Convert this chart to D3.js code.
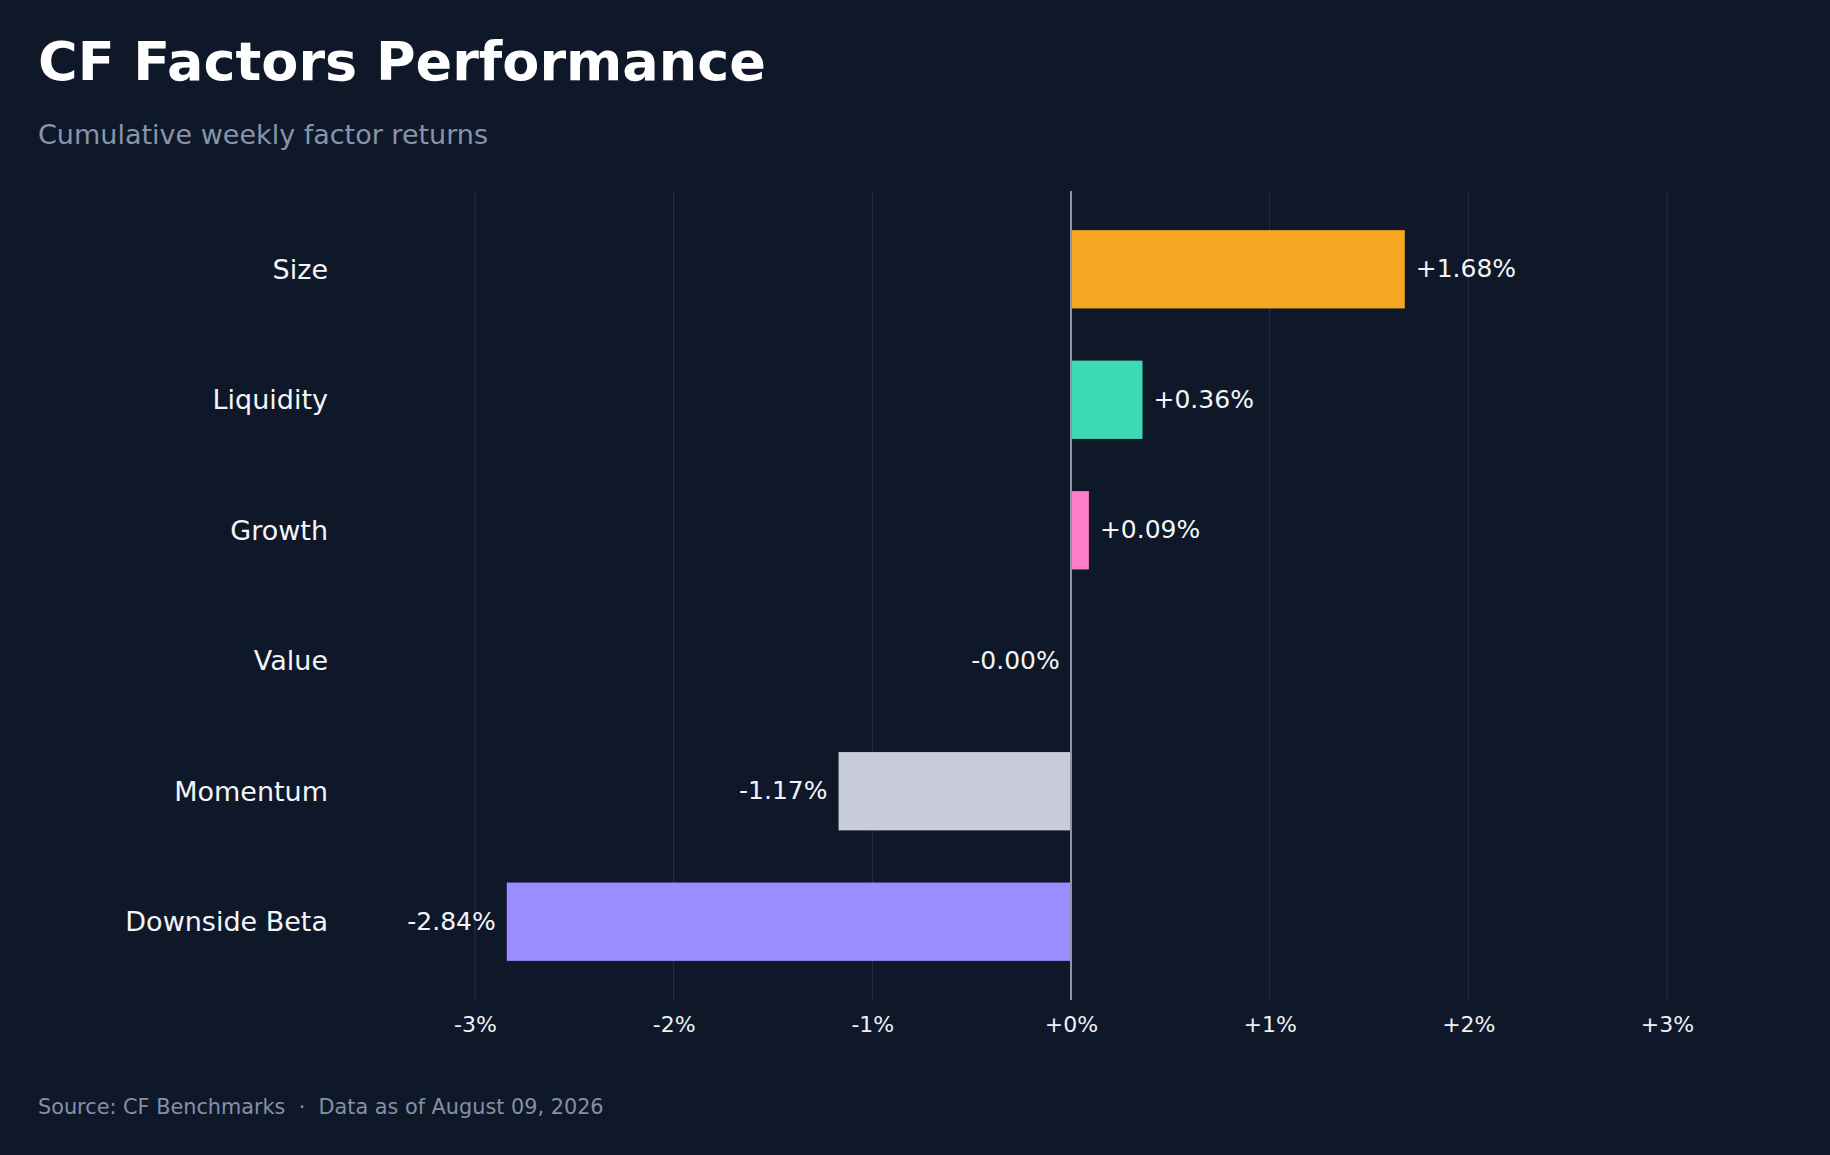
<!DOCTYPE html>
<html>
<head>
<meta charset="utf-8">
<script src="https://cdn.jsdelivr.net/npm/d3@7"></script>
<style>
  body { margin: 0; background: #0f1829; }
  svg { display: block; font-family: 'DejaVu Sans', sans-serif; }
</style>
</head>
<body>
<svg id="chart"></svg>
<script>
const WIDTH = 1830
const HEIGHT = 1155

const factors = ['Size', 'Liquidity', 'Growth', 'Value', 'Momentum', 'Downside Beta']
const returns = [1.68, 0.36, 0.09, -0.001, -1.17, -2.84]
const colors = ['#f5a623', '#3ddab5', '#ff7ec7', '#7b8ca8', '#c8ccd8', '#9b8dff']
const ticks = [-3, -2, -1, 0, 1, 2, 3]

const data = factors.map((name, i) => ({ name, value: returns[i], color: colors[i] }))

const svg = d3.select('#chart')
  .attr('width', WIDTH)
  .attr('height', HEIGHT)

svg.append('rect')
  .attr('width', WIDTH)
  .attr('height', HEIGHT)
  .attr('fill', '#0f1829')

const plotTop = 191
const plotBottom = 1000

const x = d3.scaleLinear()
  .domain([-3, 3])
  .range([475, 1667])

const y = d3.scaleBand()
  .domain(factors)
  .range([plotTop, plotBottom])
  .paddingInner(0.4)
  .paddingOuter(0.3)

const signed = (v, digits) => (v < 0 ? '-' : '+') + Math.abs(v).toFixed(digits) + '%'

// grid
svg.append('g')
  .selectAll('line')
  .data(ticks.filter(d => d !== 0))
  .join('line')
  .attr('x1', d => x(d))
  .attr('x2', d => x(d))
  .attr('y1', plotTop)
  .attr('y2', plotBottom)
  .attr('stroke', '#243047')
  .attr('stroke-width', 1)

// bars
svg.append('g')
  .selectAll('rect')
  .data(data)
  .join('rect')
  .attr('x', d => x(Math.min(0, d.value)))
  .attr('y', d => y(d.name))
  .attr('width', d => Math.abs(x(d.value) - x(0)))
  .attr('height', y.bandwidth())
  .attr('fill', d => d.color)

// zero line
svg.append('line')
  .attr('x1', x(0))
  .attr('x2', x(0))
  .attr('y1', plotTop)
  .attr('y2', plotBottom)
  .attr('stroke', '#8d96a7')
  .attr('stroke-width', 2)

// value labels
svg.append('g')
  .selectAll('text')
  .data(data)
  .join('text')
  .attr('x', d => d.value < 0 ? x(d.value) - 11 : x(d.value) + 11)
  .attr('y', d => y(d.name) + y.bandwidth() / 2)
  .attr('dy', '0.32em')
  .attr('text-anchor', d => d.value < 0 ? 'end' : 'start')
  .attr('font-size', 25)
  .attr('fill', '#f3f5f9')
  .text(d => signed(d.value, 2))

// category labels
const axisLeft = d3.axisLeft(y).tickSize(0).tickPadding(0)
svg.append('g')
  .attr('transform', 'translate(328,0)')
  .call(axisLeft)
  .call(g => g.select('.domain').remove())
  .call(g => g.selectAll('text')
    .attr('dy', '0.35em')
    .attr('font-size', 27)
    .attr('font-family', 'DejaVu Sans, sans-serif')
    .attr('fill', '#f3f5f9'))

// x axis
const axisBottom = d3.axisBottom(x)
  .tickValues(ticks)
  .tickSize(0)
  .tickPadding(0)
  .tickFormat(d => signed(d, 0))

svg.append('g')
  .attr('transform', 'translate(0,1032)')
  .call(axisBottom)
  .call(g => g.select('.domain').remove())
  .call(g => g.selectAll('text')
    .attr('dy', 0)
    .attr('y', 0)
    .attr('font-size', 22)
    .attr('font-family', 'DejaVu Sans, sans-serif')
    .attr('fill', '#eef1f6'))

// titles
svg.append('text')
  .attr('x', 38)
  .attr('y', 80)
  .attr('font-size', 54)
  .attr('font-weight', 'bold')
  .attr('fill', '#ffffff')
  .text('CF Factors Performance')

svg.append('text')
  .attr('x', 38)
  .attr('y', 144)
  .attr('font-size', 27)
  .attr('fill', '#8894ab')
  .text('Cumulative weekly factor returns')

svg.append('text')
  .attr('x', 38)
  .attr('y', 1114)
  .attr('font-size', 20.8)
  .attr('fill', '#8390a6')
  .attr('xml:space', 'preserve')
  .style('white-space', 'pre')
  .text('Source: CF Benchmarks  \u00b7  Data as of August 09, 2026')
</script>
</body>
</html>
